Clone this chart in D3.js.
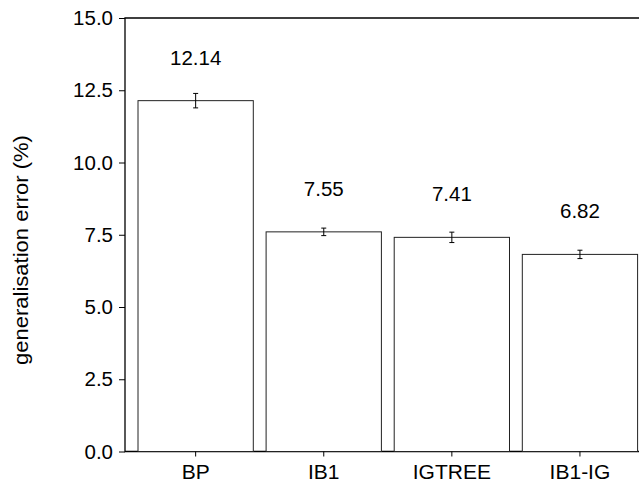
<!DOCTYPE html>
<html>
<head>
<meta charset="utf-8">
<script src="https://cdn.jsdelivr.net/npm/d3@7"></script>
<style>
  html, body { margin: 0; padding: 0; background: #fff; }
  svg { display: block; }
  text { font-family: "Liberation Sans", Arial, sans-serif; fill: #000; }
</style>
</head>
<body>
<svg id="chart" width="639" height="486"></svg>
<script>
const categories = ["BP", "IB1", "IGTREE", "IB1-IG"];
const values = [12.14, 7.60, 7.41, 6.82];
const errors = [0.25, 0.13, 0.18, 0.145];
const valueLabels = ["12.14", "7.55", "7.41", "6.82"];
const yTicks = [0, 2.5, 5, 7.5, 10, 12.5, 15];
const yTitle = "generalisation error (%)";

const svg = d3.select("#chart");
const pLeft = 125, pTop = 18, pBottom = 451.5, pRight = 645;

const x = d3.scaleBand().domain(categories).range([131.6, 644]).paddingInner(0.1).paddingOuter(0.05);
const y = d3.scaleLinear().domain([0, 15]).range([pBottom, pTop]);

// frame
svg.append("path")
  .attr("d", `M${pRight},${pTop}H${pLeft}V${pBottom}H${pRight}`)
  .attr("fill", "none").attr("stroke", "#000").attr("stroke-width", 1.3);

// bars
svg.append("g").selectAll("rect").data(categories).join("rect")
  .attr("x", d => x(d))
  .attr("y", (d, i) => y(values[i]))
  .attr("width", x.bandwidth())
  .attr("height", (d, i) => pBottom - y(values[i]))
  .attr("fill", "#fff").attr("stroke", "#222").attr("stroke-width", 1);

// error bars
const eg = svg.append("g").attr("stroke", "#000").attr("stroke-width", 1).attr("fill", "none");
categories.forEach((c, i) => {
  const cx = x(c) + x.bandwidth() / 2;
  const y1 = y(values[i] + errors[i]), y2 = y(values[i] - errors[i]);
  eg.append("path").attr("d", `M${cx},${y1}V${y2}M${cx - 2.5},${y1}H${cx + 2.5}M${cx - 2.5},${y2}H${cx + 2.5}`);
});

// value labels
svg.append("g").selectAll("text").data(categories).join("text")
  .attr("x", d => x(d) + x.bandwidth() / 2)
  .attr("y", (d, i) => y(values[i]) - 36)
  .attr("text-anchor", "middle")
  .attr("font-size", 20.5)
  .text((d, i) => valueLabels[i]);

// y axis
const yAxis = svg.append("g").attr("transform", `translate(${pLeft},0)`)
  .call(d3.axisLeft(y).tickValues(yTicks).tickFormat(d3.format(".1f")).tickSize(6).tickPadding(6));
yAxis.select(".domain").remove();
yAxis.selectAll("line").attr("stroke", "#000");
yAxis.selectAll("text").attr("font-size", 20.5).style("font-family", "Liberation Sans, Arial, sans-serif");

// x axis
const xAxis = svg.append("g").attr("transform", `translate(0,${pBottom})`)
  .call(d3.axisBottom(x).tickSize(5).tickPadding(8));
xAxis.select(".domain").remove();
xAxis.selectAll("line").attr("stroke", "#000");
xAxis.selectAll("text").attr("font-size", 21).style("font-family", "Liberation Sans, Arial, sans-serif");

// y title
svg.append("text")
  .attr("transform", `translate(28,250) rotate(-90) scale(1.1,1)`)
  .attr("text-anchor", "middle")
  .attr("font-size", 20)
  .text(yTitle);
</script>
</body>
</html>
